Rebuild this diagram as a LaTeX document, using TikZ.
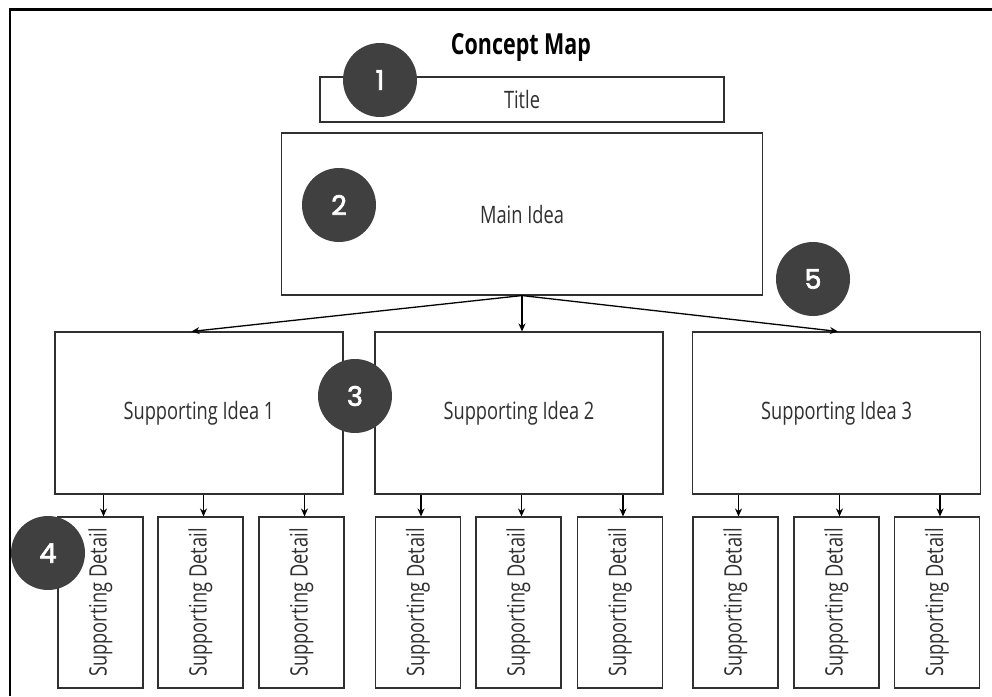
\documentclass[tikz,border=0pt]{standalone}
\usepackage{fontspec}
\setmainfont{Open Sans}[FakeStretch=0.76]
\newfontfamily\headfont{Open Sans}[FakeStretch=0.74]
\newfontfamily\numfont{Poppins}[FakeBold=2.5]
\usetikzlibrary{arrows.meta,calc}
\definecolor{circ}{HTML}{404040}
\definecolor{ink}{HTML}{303030}
\tikzset{
  box/.style={draw=ink,line width=1.1pt,rectangle,inner sep=0pt,text=ink,font=\fontsize{24}{27}\selectfont},
  detail/.style={box,minimum width=85pt,minimum height=171pt},
  bigbox/.style={box,minimum width=288pt,minimum height=162pt},
  badge/.style={circle,fill=circ,minimum size=74pt,inner sep=0pt,text=white,font=\numfont\fontsize{27}{27}\selectfont},
  conn/.style={line width=1.3pt,-{Stealth[length=8pt,width=7pt]}}
}
\begin{document}
\begin{tikzpicture}[x=1pt,y=-1pt]
\useasboundingbox (0,0) rectangle (992,696);
\fill[white] (0,0) rectangle (992,696);
\draw[line width=2.5pt] (10,696) -- (10,9.5) -- (992,9.5);
\node[font=\headfont\bfseries\fontsize{29}{31}\selectfont] (head) at (521,47) {Concept Map};
\node[box,minimum width=404pt,minimum height=45pt] (title) at (522,99.5) {Title};
\node[box,minimum width=481pt,minimum height=162pt] (main) at (522,214) {Main Idea};
\node[bigbox] (s1) at (199,413) {Supporting Idea 1};
\node[bigbox] (s2) at (519,413) {Supporting Idea 2};
\node[bigbox] (s3) at (836.5,413) {Supporting Idea 3};
\foreach \n/\x in {d11/100.5,d12/200.5,d13/301.5,d21/418,d22/518.5,d23/620,d31/735.5,d32/836.5,d33/937}{
  \node[detail] (\n) at (\x,602.5) {\rotatebox{90}{Supporting Detail}};
}
\draw[conn] (main.south) -- ($(s1.north west)!0.474!(s1.north east)$);
\draw[conn] (main.south) -- (main.south |- s2.north);
\draw[conn] (main.south) -- ($(s3.north west)!0.505!(s3.north east)$);
\foreach \p/\c in {s1/d11,s1/d12,s1/d13,s2/d21,s2/d22,s2/d23,s3/d31,s3/d32,s3/d33}{
  \draw[conn] ([xshift=3pt]\c.north |- \p.south) -- ([xshift=3pt]\c.north);
}
\node[badge] (b1) at (380,80) {1};
\node[badge] (b2) at (339,205) {2};
\node[badge] (b3) at (355,396) {3};
\node[badge] (b4) at (48,553) {4};
\node[badge] (b5) at (813,279) {5};
\end{tikzpicture}
\end{document}
